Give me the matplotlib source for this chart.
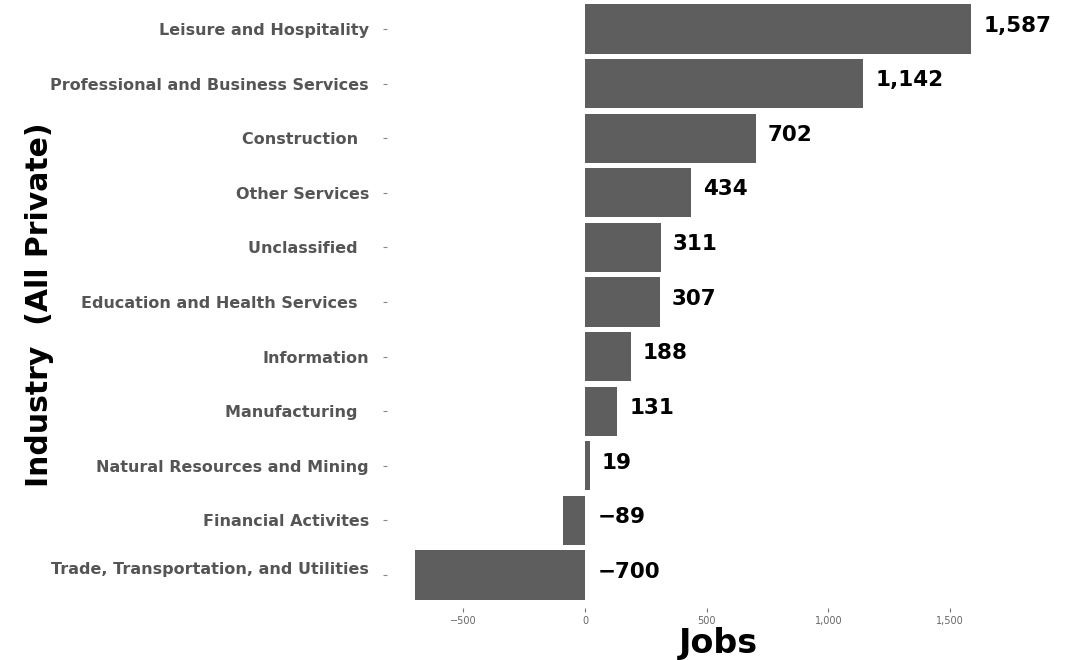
import matplotlib
matplotlib.use("Agg")
import matplotlib.pyplot as plt
from matplotlib.ticker import FuncFormatter

industries = ["Trade, Transportation, and Utilities\n", "Financial Activites",
              "Natural Resources and Mining", "Manufacturing  ", "Information",
              "Education and Health Services  ", "Unclassified  ", "Other Services",
              "Construction  ", "Professional and Business Services",
              "Leisure and Hospitality"]
jobs = [-700, -89, 19, 131, 188, 307, 311, 434, 702, 1142, 1587]

plt.rcParams['font.family'] = ['DejaVu Sans']

fig = plt.figure(figsize=(10.82, 6.6), dpi=100)
ax = fig.add_axes([387/1082, 1-608/660, (999-387)/1082, 608/660])

ypos = list(range(len(jobs)))
ax.barh(ypos, jobs, height=0.9, color='#5e5e5e')

for y, v in zip(ypos, jobs):
    lab = f"{abs(v):,}"
    if v < 0:
        lab = "\u2212" + lab
    ax.text(max(v, 0) + 50, y + 0.06, lab, ha='left', va='center',
            fontsize=15.5, fontweight='bold', color='black')

ax.set_xlim(-814, 1701)
ax.set_ylim(-0.604, len(jobs) - 0.47)
ax.set_yticks(ypos)
ax.set_yticklabels(industries, fontsize=11.5, fontweight='bold', color='#555555')
ax.set_xticks([-500, 0, 500, 1000, 1500])
ax.xaxis.set_major_formatter(FuncFormatter(
    lambda x, p: ("\u2212" if x < 0 else "") + f"{abs(int(x)):,}"))
ax.tick_params(axis='x', labelsize=7, colors='#777777', length=3, width=0.8, pad=3)
ax.tick_params(axis='y', colors='#888888', length=3, width=0.8, pad=10)
for t in ax.get_yticklabels():
    t.set_color('#555555')
for t in ax.get_xticklabels():
    t.set_color('#666666')

for s in ax.spines.values():
    s.set_visible(False)

fig.text(718/1082, 1-643/660, "Jobs", fontsize=24, fontweight='bold',
         color='black', ha='center', va='center')
fig.text(40/1082, 1-305/660, "Industry  (All Private)", rotation=90,
         fontsize=21.5, fontweight='bold', color='black', ha='center', va='center')

fig.savefig("out.png", dpi=100)
